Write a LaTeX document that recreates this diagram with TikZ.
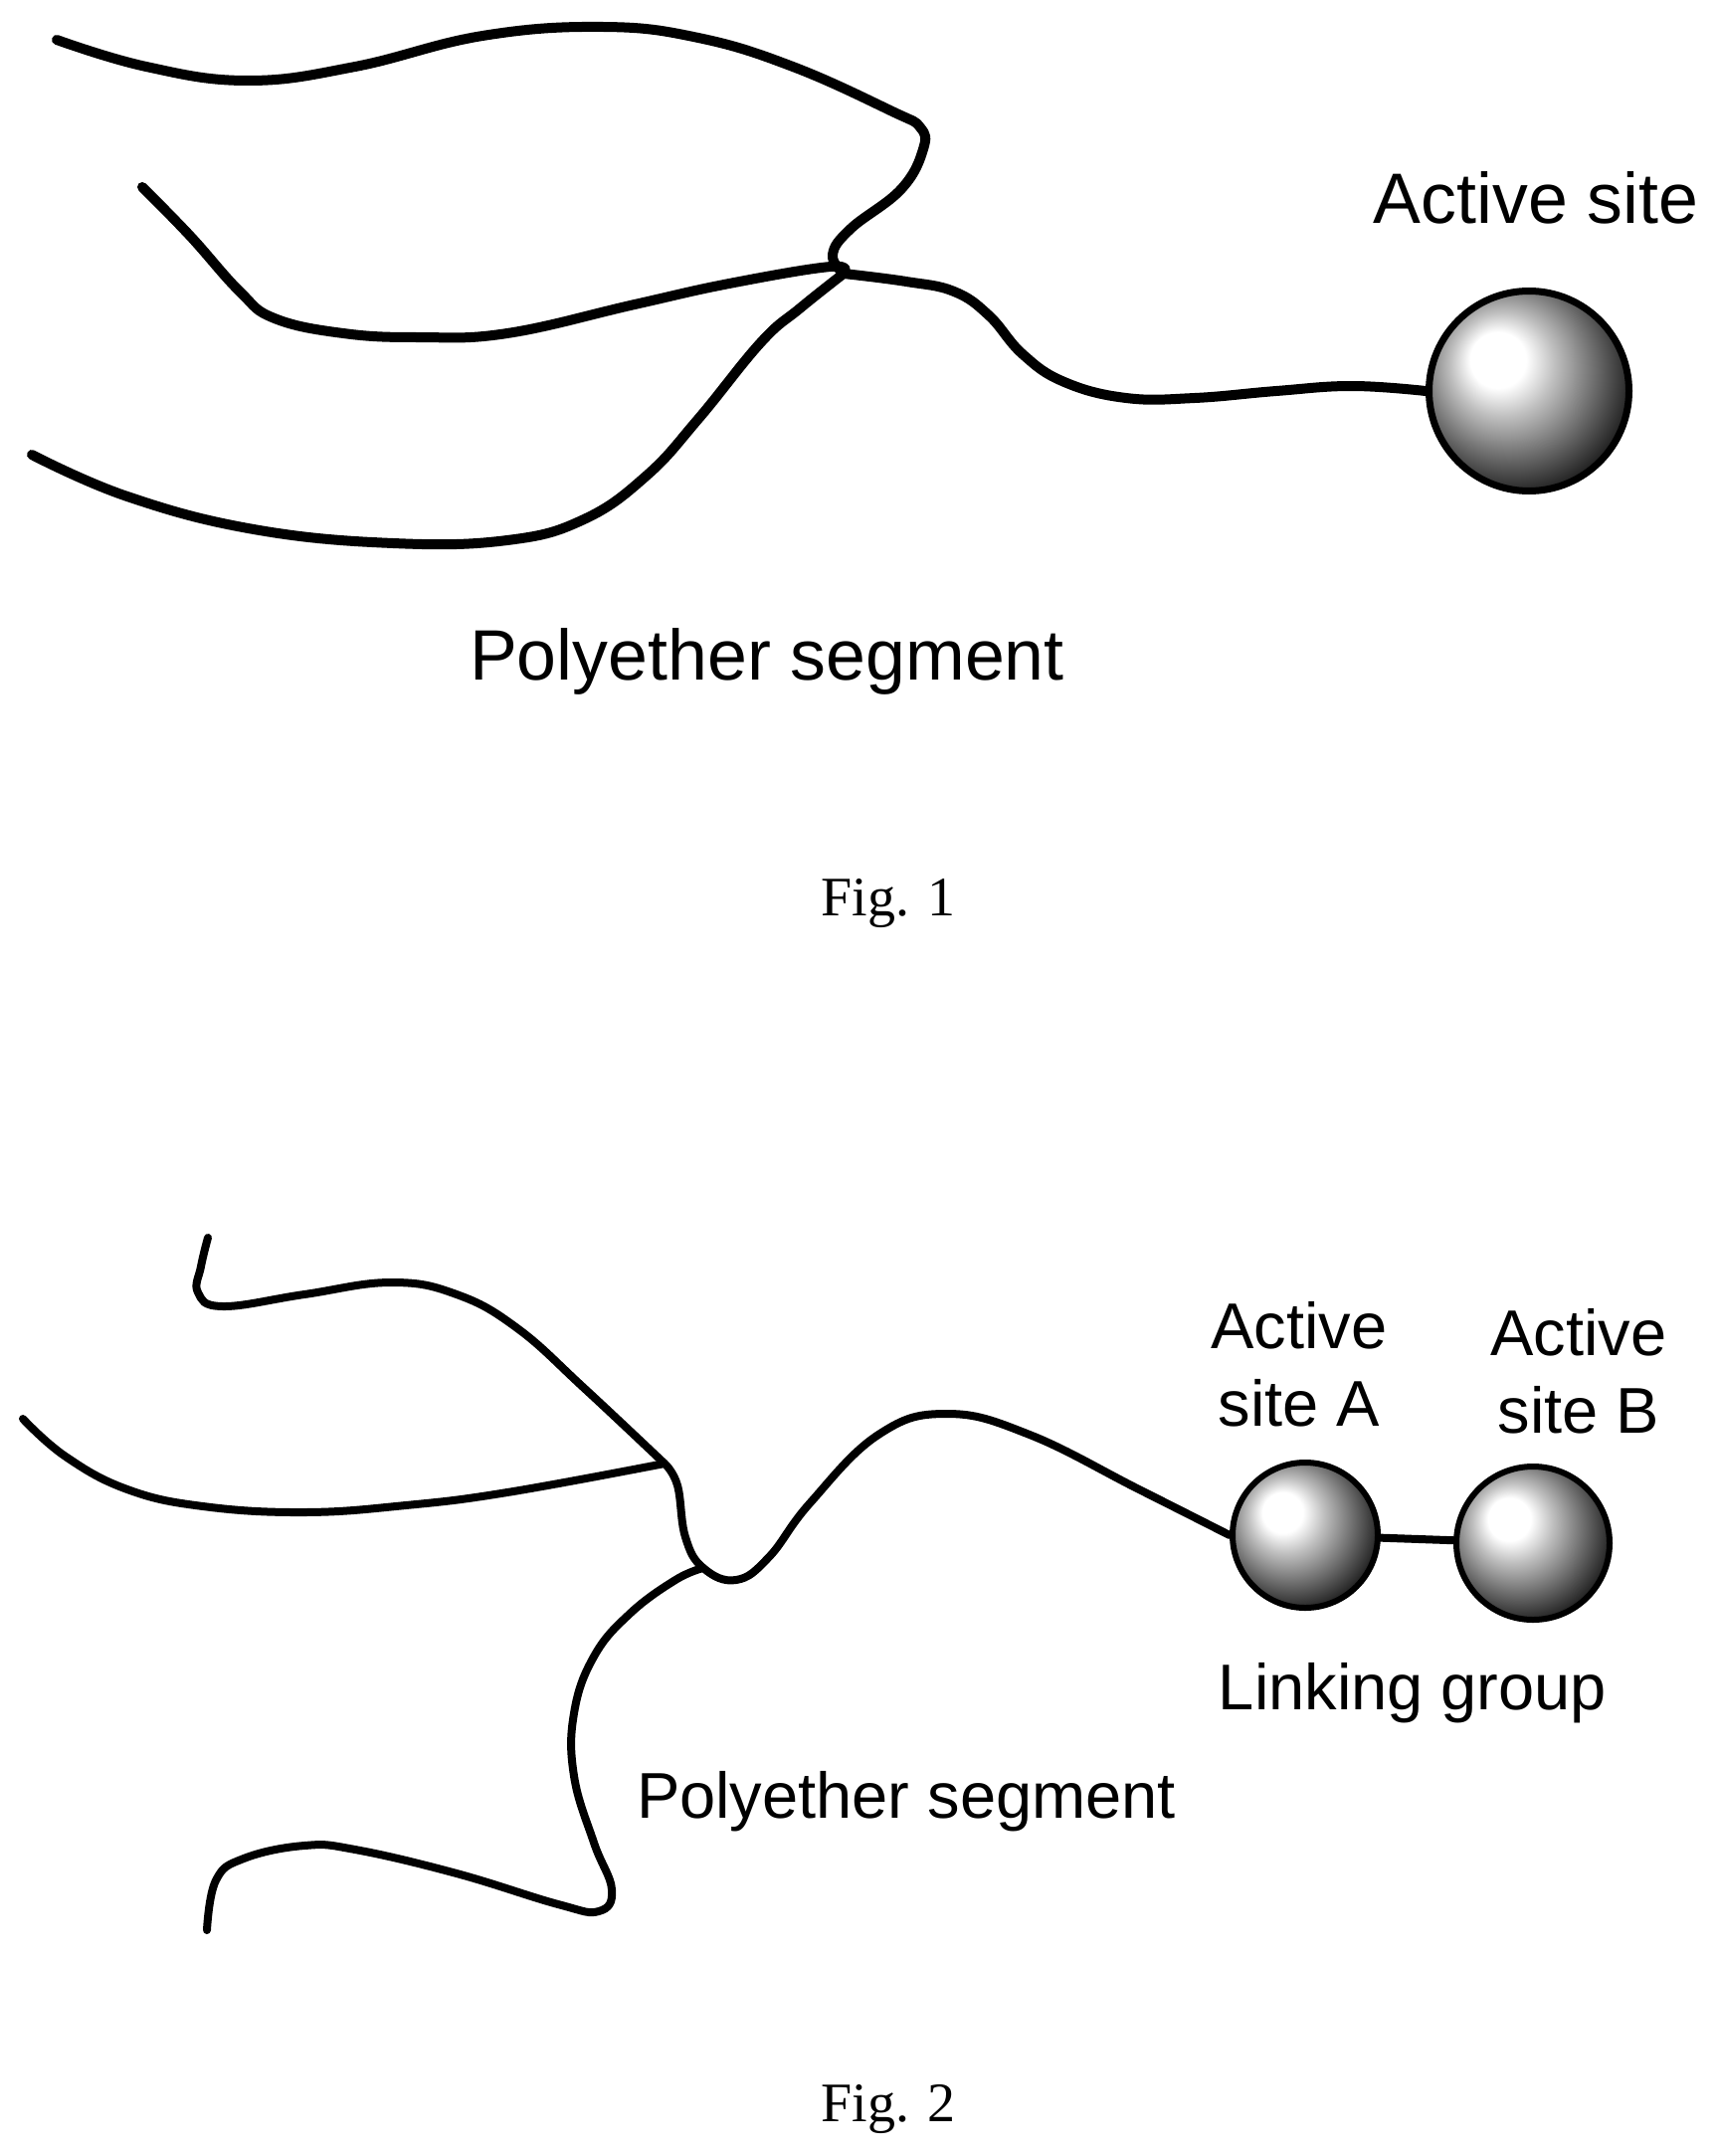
\documentclass[tikz,border=0pt]{standalone}
\usepackage{fontspec}
\setmainfont{Liberation Sans}
\newfontfamily\figfont{Liberation Serif}
\pgfdeclareradialshading{sitesphere}{\pgfpoint{-9bp}{9bp}}{color(0bp)=(white); color(7bp)=(white); color(13bp)=(black!25); color(21bp)=(black!55); color(29bp)=(black!85); color(34bp)=(black); color(50bp)=(black)}
\tikzset{
  chain/.style={black,line cap=round,line join=round},
  chainone/.style={chain,line width=10pt},
  chaintwo/.style={chain,line width=8pt},
  site/.style={circle,draw=black,shading=sitesphere},
  siteone/.style={site,line width=7pt,minimum size=201pt},
  sitetwo/.style={site,line width=6pt},
  labelone/.style={anchor=base,font=\fontsize{71.7}{85}\selectfont},
  labeltwo/.style={anchor=base,align=center,font=\fontsize{65}{78}\selectfont},
  figlabel/.style={anchor=base,font=\fontsize{56}{66}\selectfont\figfont}
}
\begin{document}
\begin{tikzpicture}[x=1pt,y=-1pt]
\tikzstyle{every node}+=[inner sep=0pt]
\useasboundingbox (0,0) rectangle (1725,2167);
\node [siteone] (site) at (1537,393) {};
\node [labelone] (sitelabel) at (1544,225) {Active site};
\node [labelone] (polyone) at (771,683) {Polyether segment};
\node [figlabel] (figone) at (893,920) {Fig. 1};
\coordinate (jone) at (848,275);
\coordinate (ea) at (57,40);
\coordinate (eb) at (143,188);
\coordinate (ec) at (32,457);
\draw [chainone] plot [smooth,tension=0.7] coordinates {(ea) (147,67) (249,81) (357,67) (485,36) (606,27) (702,38) (797,67) (897,112) (925,128) (928,150) (906,190) (855,230) (837,256) (jone)};
\draw [chainone] plot [smooth,tension=0.7] coordinates {(eb) (191,237) (241,293) (276,320) (345,335) (421,339) (510,335) (638,306) (733,285) (835,268) (jone)};
\draw [chainone] plot [smooth,tension=0.7] coordinates {(ec) (128,499) (255,532) (395,546) (510,543) (587,522) (650,478) (702,421) (765,344) (804,310) (jone)};
\draw [chainone] plot [smooth,tension=0.7] coordinates {(jone) (911,283) (959,293) (994,317) (1028,356) (1070,384) (1132,400) (1201,400) (1283,393) (1359,388) (site.west)};
\node [sitetwo,minimum size=146pt] (sitea) at (1312,1543) {};
\node [sitetwo,minimum size=154pt] (siteb) at (1541,1551) {};
\node [labeltwo] (labela) at (1306,1433) {Active\\site A};
\node [labeltwo] (labelb) at (1587,1440) {Active\\site B};
\node [labeltwo] (linking) at (1420,1718) {Linking group};
\node [labeltwo] (polytwo) at (911,1827) {Polyether segment};
\node [figlabel] (figtwo) at (893,2132) {Fig. 2};
\coordinate (jtwo) at (668,1471);
\coordinate (jthree) at (707,1576);
\coordinate (ed) at (209,1244);
\coordinate (ee) at (23,1426);
\coordinate (ef) at (208,1940);
\draw [chaintwo] plot [smooth,tension=0.7] coordinates {(ed) (202,1273) (199,1299) (224,1313) (306,1301) (393,1289) (459,1301) (520,1335) (587,1395) (jtwo)};
\draw [chaintwo] plot [smooth,tension=0.7] coordinates {(ee) (66,1464) (128,1497) (204,1514) (306,1520) (408,1513) (510,1500) (jtwo)};
\draw [chaintwo] plot [smooth,tension=0.7] coordinates {(jtwo) (681,1493) (689,1545) (jthree) (740,1588) (773,1565) (814,1511) (883,1442) (952,1421) (1035,1442) (1145,1497) (sitea.west)};
\draw [chaintwo] plot [smooth,tension=0.7] coordinates {(jthree) (679,1588) (633,1622) (597,1665) (577,1722) (577,1785) (597,1852) (615,1899) (602,1921) (561,1914) (459,1883) (357,1859) (306,1855) (245,1868) (217,1890) (ef)};
\draw [chaintwo] (sitea.-2) -- (siteb.178);
\end{tikzpicture}
\end{document}
